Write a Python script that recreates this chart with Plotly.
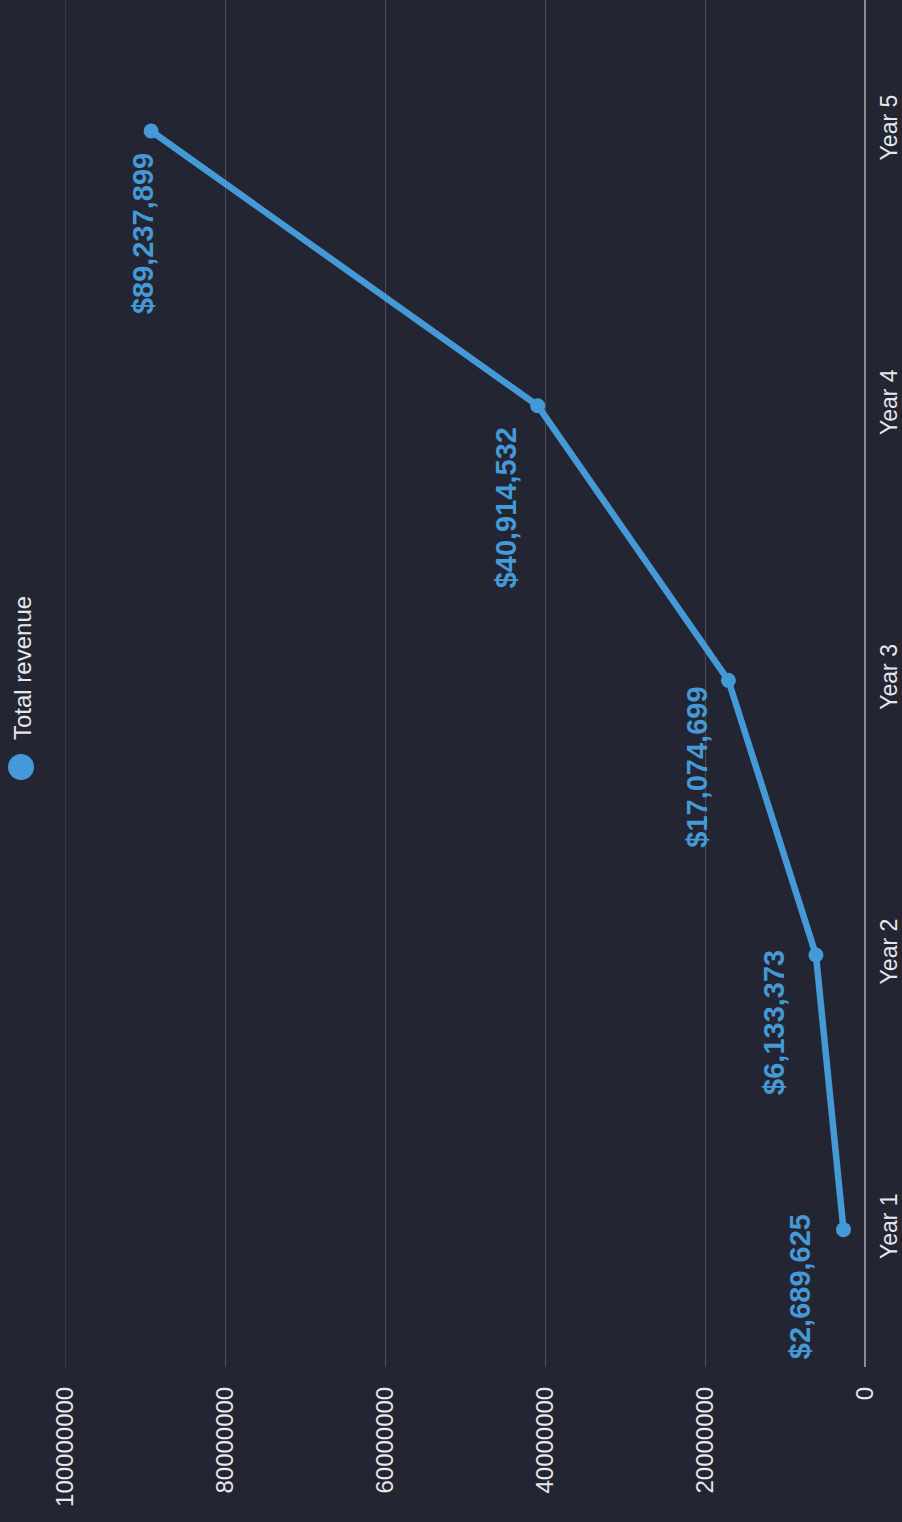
import plotly.graph_objects as go

# ---- data ----
categories = ["Year 1", "Year 2", "Year 3", "Year 4", "Year 5"]
revenue = [2689625, 6133373, 17074699, 40914532, 89237899]
value_ticks = [0, 20000000, 40000000, 60000000, 80000000, 100000000]
value_tick_labels = ["0", "20000000", "40000000", "60000000", "80000000", "100000000"]
series_name = "Total revenue"

# label offsets (pixels, relative to each point)
label_dx = [-44, -42, -31, -32, -8]
label_dy = [57, 67, 87, 102, 103]

W, H = 902, 1522
ML, MR, MT, MB = 65, 37, 0, 155
PW, PH = W - ML - MR, H - MT - MB

BG = "#232632"
BLUE = "#4499d6"
TXT = "#e6e7ea"
GRID = "#4a4f5b"
FONT = "Liberation Sans, Arial, sans-serif"

fig = go.Figure()
fig.add_trace(go.Scatter(
    x=revenue, y=categories, mode="lines+markers",
    line=dict(color=BLUE, width=6.5),
    marker=dict(color=BLUE, size=15),
    name=series_name, showlegend=False, hoverinfo="skip",
))

annotations = []
for c, v, dx, dy in zip(categories, revenue, label_dx, label_dy):
    annotations.append(dict(
        x=v, y=c, xref="x", yref="y", text="${:,}".format(v),
        showarrow=False, textangle=-90, xanchor="center", yanchor="middle",
        xshift=dx, yshift=-dy,
        font=dict(family=FONT, size=29, color=BLUE, weight="bold"),
    ))

# legend (rotated)
leg_x = (22 - ML) / PW
annotations.append(dict(
    x=leg_x, y=1 - (668 - MT) / PH, xref="paper", yref="paper",
    text=series_name, showarrow=False, textangle=-90,
    xanchor="center", yanchor="middle",
    font=dict(family=FONT, size=24, color=TXT),
))
shapes = [
    dict(
        type="circle", xref="paper", yref="paper",
        xsizemode="pixel", ysizemode="pixel",
        xanchor=(21 - ML) / PW, yanchor=1 - (767 - MT) / PH,
        x0=-13, x1=13, y0=-13, y1=13,
        fillcolor=BLUE, line=dict(width=0),
    ),
    # gridline at the far edge of the value axis (plotly skips edge gridlines)
    dict(
        type="line", xref="x", yref="paper",
        x0=value_ticks[-1], x1=value_ticks[-1], y0=0, y1=1,
        line=dict(color=GRID, width=1), layer="below",
    ),
]

fig.update_layout(
    width=W, height=H,
    margin=dict(l=ML, r=MR, t=MT, b=MB),
    paper_bgcolor=BG, plot_bgcolor=BG,
    showlegend=False,
    annotations=annotations, shapes=shapes,
    font=dict(family=FONT, color=TXT),
    xaxis=dict(
        range=[100000000, 0], tickvals=value_ticks, ticktext=value_tick_labels,
        tickangle=-90, showgrid=True, gridcolor=GRID, gridwidth=1,
        zeroline=True, zerolinecolor="#8a8e97", zerolinewidth=2,
        showline=False, ticks="", ticklabelstandoff=14,
        tickfont=dict(family=FONT, size=24, color=TXT),
    ),
    yaxis=dict(
        type="category", categoryorder="array", categoryarray=categories,
        range=[-0.5, 4.477], side="right", tickangle=-90,
        showgrid=False, zeroline=False, showline=False, ticks="",
        ticklabelstandoff=8,
        tickfont=dict(family=FONT, size=23, color=TXT),
    ),
)

fig.write_html(
    "out.html",
    config={"displayModeBar": False},
    post_script="document.body.style.margin='0';document.body.style.background='#232632';",
)
